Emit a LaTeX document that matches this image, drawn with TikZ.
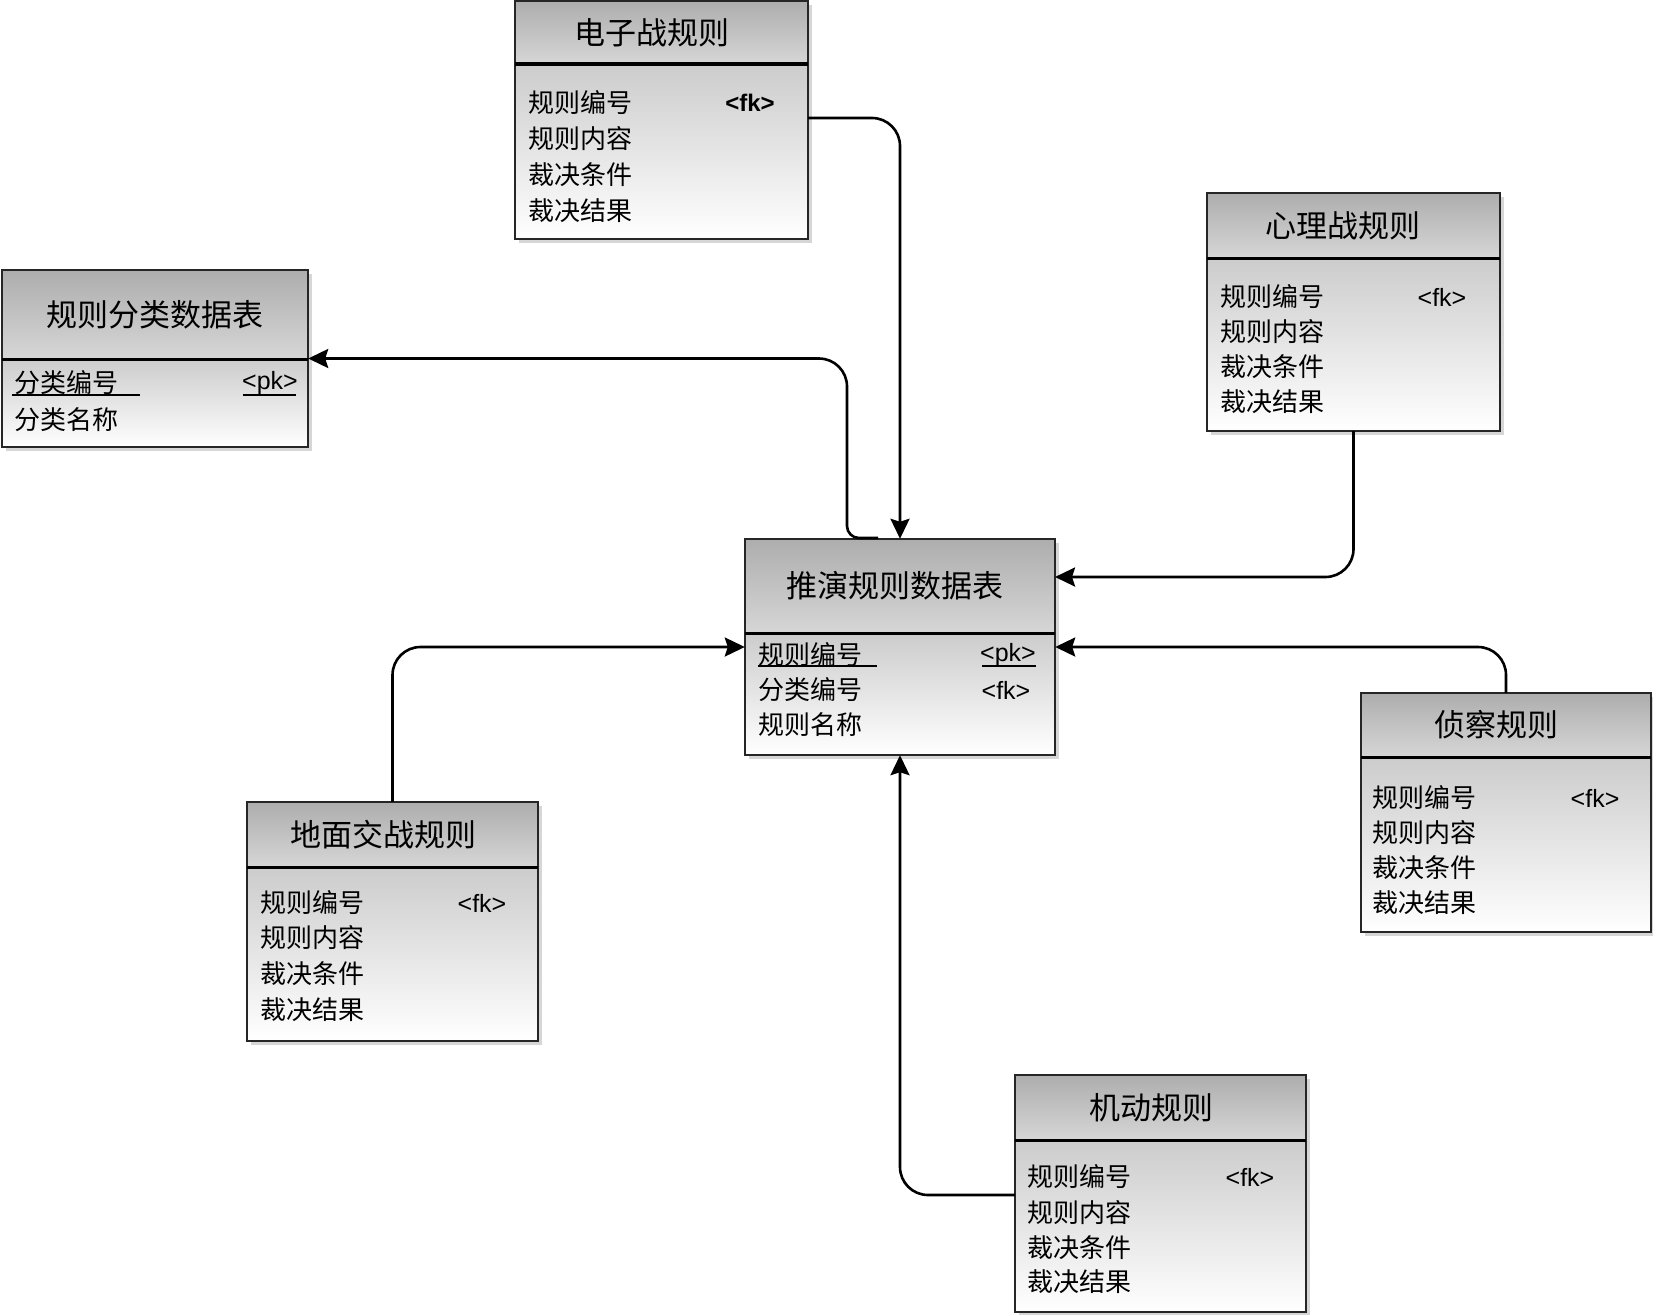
\documentclass[tikz,border=0pt]{standalone}
\usepackage{fontspec}
\setmainfont{Liberation Sans}
\newfontfamily\cjk{Noto Sans CJK SC}
\usetikzlibrary{arrows.meta,fit}
\definecolor{hdtop}{gray}{0.68}
\definecolor{hdbot}{gray}{0.84}
\definecolor{bdtop}{gray}{0.80}
\definecolor{shadowc}{gray}{0.84}
\tikzset{
 boxline/.style={draw=black!85, line width=1.2pt},
 divline/.style={draw=black, line width=3pt},
 ttl/.style={font=\cjk\fontsize{31}{36}\selectfont, inner sep=0pt},
 fld/.style={font=\cjk\fontsize{26}{30}\selectfont, anchor=west, inner sep=0pt},
 keyf/.style={font=\fontsize{25}{29}\selectfont, inner sep=0pt},
 conn/.style={draw=black, line width=2.6pt, rounded corners=28pt, -{Stealth[length=20pt,width=19pt,inset=3pt]}},
 ul/.style={draw=black, line width=1.5pt},
}
\newcommand\ertable[8]{% name, x1, y1, x2, ydiv, y2, title, title x offset
  \fill[shadowc] (#2+4,#3+4) rectangle (#4+4,#6+4);
  \fill[top color=hdtop,bottom color=hdbot] (#2,#3) rectangle (#4,#5);
  \fill[top color=bdtop,bottom color=white] (#2,#5) rectangle (#4,#6);
  \draw[boxline] (#2,#3) rectangle (#4,#6);
  \draw[divline] (#2,#5) -- (#4,#5);
  \coordinate (#1-nw) at (#2,#3);
  \coordinate (#1-se) at (#4,#6);
  \node[fit=(#1-nw)(#1-se), inner sep=0pt] (#1) {};
  \node[ttl] (#1-title) at ({(#2+#4)/2+#8},{(#3+#5)/2}) {#7};
}
\newcommand\rulefields[7]{% name, x, y1..y4, fk x
  \node[fld] (#1-f1) at (#2,#3) {规则编号};
  \node[fld] (#1-f2) at (#2,#4) {规则内容};
  \node[fld] (#1-f3) at (#2,#5) {裁决条件};
  \node[fld] (#1-f4) at (#2,#6) {裁决结果};
  \node[keyf] (#1-k) at (#7,#3) {<fk>};
}
\begin{document}
\begin{tikzpicture}[x=1pt,y=-1pt]
\useasboundingbox (0,0) rectangle (1653,1314);
\fill[white] (0,0) rectangle (1653,1314);

% tables
\ertable{ew}{515}{1}{808}{64}{239}{电子战规则}{-10}
\node[fld] (ew-f1) at (528,103) {规则编号};
\node[fld] (ew-f2) at (528,139) {规则内容};
\node[fld] (ew-f3) at (528,175) {裁决条件};
\node[fld] (ew-f4) at (528,211) {裁决结果};
\node[keyf,font=\bfseries\fontsize{24}{28}\selectfont] (ew-k) at (750,103) {<fk>};

\ertable{rc}{2}{270}{308}{359}{447}{规则分类数据表}{0}
\node[fld] (rc-f1) at (14,383) {分类编号};
\node[fld] (rc-f2) at (14,420) {分类名称};
\node[keyf] (rc-k) at (270,383) {<pk>};
\draw[ul] (12,395) -- (140,395);
\draw[ul] (243,395) -- (296,395);

\ertable{T}{745}{539}{1055}{633}{755}{推演规则数据表}{-5}
\node[fld] (T-f1) at (758,655) {规则编号};
\node[fld] (T-f2) at (758,690) {分类编号};
\node[fld] (T-f3) at (758,725) {规则名称};
\node[keyf] (T-k1) at (1008,655) {<pk>};
\node[keyf] (T-k2) at (1006,690) {<fk>};
\draw[ul] (758,666) -- (877,666);
\draw[ul] (982,666) -- (1036,666);

\ertable{psy}{1207}{193}{1500}{258}{431}{心理战规则}{-11}
\rulefields{psy}{1220}{297}{332}{367}{402}{1442}

\ertable{rec}{1361}{693}{1651}{757}{932}{侦察规则}{-10}
\rulefields{rec}{1372}{798}{833}{868}{903}{1595}

\ertable{gnd}{247}{802}{538}{867}{1041}{地面交战规则}{-9}
\rulefields{gnd}{260}{903}{938}{974}{1010}{482}

\ertable{jd}{1015}{1075}{1306}{1140}{1312}{机动规则}{-9}
\rulefields{jd}{1027}{1177}{1213}{1248}{1282}{1250}

% connector end points
\coordinate (ewo) at (808,118);
\coordinate (tro) at (878,538);
\coordinate (trc) at (847,538);
\coordinate (trd) at (847,358.5);
\coordinate (tin) at (1055,577);
\coordinate (jdo) at (1015,1195);

% connectors
\draw[conn] (ewo) -| (T.north);
\draw[conn, rounded corners=12pt] (tro) -- (trc) [rounded corners=28pt] -- (trd) -- (rc.east);
\draw[conn] (psy.south) |- (tin);
\draw[conn] (rec.north) |- (T.east);
\draw[conn] (gnd.north) |- (T.west);
\draw[conn] (jdo) -| (T.south);
\end{tikzpicture}
\end{document}
